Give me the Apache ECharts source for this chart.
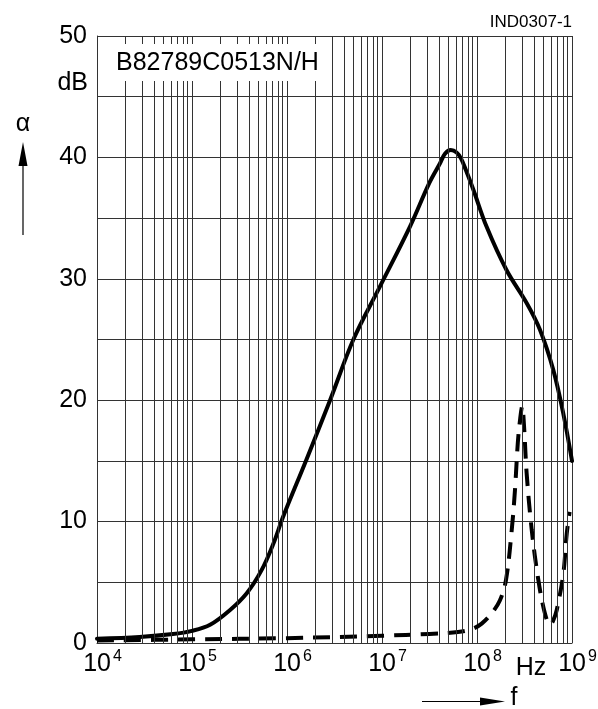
<!DOCTYPE html>
<html>
<head>
<meta charset="utf-8">
<script src="https://cdn.jsdelivr.net/npm/echarts@6/dist/echarts.min.js"></script>
<style>
html,body{margin:0;padding:0;background:#fff;}
#chart{width:598px;height:709px;}
</style>
</head>
<body>
<div id="chart"></div>
<script>
// ---- data (frequency in Hz, attenuation in dB) ----
const freqSolid = [1e4, 2.8e4, 6.3e4, 1e5, 1.55e5, 2.5e5, 3.77e5, 5.4e5, 7.2e5, 9.1e5, 1.6e6, 2.84e6, 5.0e6, 9.5e6, 1.97e7, 3.15e7, 4.07e7, 4.6e7, 5.3e7, 6.1e7, 6.8e7, 7.6e7, 9.1e7, 1.26e8, 2.05e8, 3.33e8, 4.6e8, 6.35e8, 8.1e8, 1e9];
const attSolid  = [0.35, 0.5, 0.74, 1.0, 1.5, 2.7, 4.1, 6.0, 8.2, 10.4, 15.1, 20.0, 25.0, 29.35, 34.3, 37.9, 39.5, 40.3, 40.6, 40.4, 39.9, 39.0, 37.4, 34.3, 30.7, 28.0, 25.8, 22.5, 18.9, 15.0];

const freqDashed = [1e4, 1e5, 1e6, 1e7, 3.16e7, 6.3e7, 8.9e7, 1.12e8, 1.41e8, 1.74e8, 2.02e8, 2.32e8, 2.51e8, 2.69e8, 2.85e8, 2.99e8, 3.13e8, 3.33e8, 3.77e8, 4.42e8, 5.2e8, 5.86e8, 6.3e8, 6.9e8, 8.1e8, 8.8e8, 9.44e8];
const attDashed  = [0.2, 0.3, 0.4, 0.6, 0.75, 0.9, 1.15, 1.6, 2.4, 3.5, 5.2, 9.3, 12.6, 16.5, 18.5, 19.5, 17.8, 14.0, 9.3, 5.2, 2.4, 1.5, 1.8, 2.7, 5.7, 9.0, 10.8];

// ---- axes ----
const xDecades   = [1e4, 1e5, 1e6, 1e7, 1e8, 1e9];
const xExponents = ['4', '5', '6', '7', '8', '9'];
const minorMultipliers = [2, 3, 4, 5, 6, 7, 8, 9];
const yTickLabels = [0, 10, 20, 30, 40, 50];

const titleText = 'B82789C0513N/H';
const codeText = 'IND0307-1';

const gridFreqs = [];
xDecades.slice(0, -1).forEach(d => minorMultipliers.forEach(m => gridFreqs.push(d * m)));

const FONT = '"Liberation Sans", Arial, sans-serif';
const chart = echarts.init(document.getElementById('chart'), null, {renderer: 'canvas'});

const option = {
  backgroundColor: '#fff',
  animation: false,
  textStyle: {fontFamily: FONT},
  grid: {left: 97, right: 26, top: 36, bottom: 66, containLabel: false, outerBoundsMode: 'none'},
  xAxis: {
    type: 'log', logBase: 10, min: 1e4, max: 1e9,
    axisLine: {show: true, lineStyle: {color: '#333', width: 1}},
    axisTick: {show: false},
    splitLine: {show: true, lineStyle: {color: '#333', width: 1}},
    axisLabel: {
      margin: 9,
      color: '#000',
      formatter: function (v) {
        const e = String(Math.round(Math.log10(v)));
        const i = xExponents.indexOf(e);
        if (i < 0) return '';
        return '{b|10}{s|' + xExponents[i] + '}';
      },
      rich: {
        b: {fontSize: 25, lineHeight: 25, fontFamily: FONT, color: '#000', padding: [0, 0, 0, 11]},
        s: {fontSize: 16, lineHeight: 16, fontFamily: FONT, color: '#000', padding: [0, 0, 15, 2]}
      }
    }
  },
  yAxis: {
    type: 'value', min: 0, max: 50, interval: 5,
    axisLine: {show: true, lineStyle: {color: '#333', width: 1}},
    axisTick: {show: false},
    splitLine: {show: true, lineStyle: {color: '#333', width: 1}},
    axisLabel: {
      margin: 10, fontSize: 25, color: '#000', fontFamily: FONT,
      formatter: v => (yTickLabels.indexOf(v) >= 0 ? String(v) : '')
    }
  },
  series: [
    {
      type: 'line', data: [], z: 1, silent: true,
      markLine: {
        silent: true, symbol: ['none', 'none'], animation: false,
        label: {show: false},
        lineStyle: {color: '#333', width: 1, type: 'solid'},
        emphasis: {disabled: true},
        data: gridFreqs.map(f => ({xAxis: f}))
      }
    },
    {
      type: 'line', z: 3,
      data: freqSolid.map((f, i) => [f, attSolid[i]]),
      showSymbol: false, smooth: 0.35,
      lineStyle: {color: '#000', width: 4, cap: 'round', join: 'round'}
    },
    {
      type: 'line', z: 3,
      data: freqDashed.map((f, i) => [f, attDashed[i]]),
      showSymbol: false, smooth: 0.35,
      lineStyle: {color: '#000', width: 4, type: [17, 10], cap: 'butt'}
    }
  ],
  graphic: [
    {type: 'rect', z: 50, shape: {x: 105, y: 44, width: 215, height: 37}, style: {fill: '#fff'}},
    {type: 'text', z: 51, x: 116, y: 63, style: {text: titleText, font: '25px ' + FONT, fill: '#000', verticalAlign: 'middle', align: 'left'}},
    {type: 'text', z: 51, x: 572, y: 22, style: {text: codeText, font: '17px ' + FONT, fill: '#000', verticalAlign: 'middle', align: 'right'}},
    {type: 'text', z: 51, x: 88, y: 83, style: {text: 'dB', font: '25px ' + FONT, fill: '#000', verticalAlign: 'middle', align: 'right'}},
    {type: 'text', z: 51, x: 23, y: 124, style: {text: 'α', font: '25px ' + FONT, fill: '#000', verticalAlign: 'middle', align: 'center'}},
    {type: 'line', z: 51, shape: {x1: 23, y1: 235, x2: 23, y2: 160}, style: {stroke: '#000', lineWidth: 1.2}},
    {type: 'polygon', z: 51, shape: {points: [[23, 142], [18.5, 166], [27.5, 166]]}, style: {fill: '#000'}},
    {type: 'text', z: 51, x: 531, y: 668, style: {text: 'Hz', font: '25px ' + FONT, fill: '#000', verticalAlign: 'middle', align: 'center'}},
    {type: 'line', z: 51, shape: {x1: 422, y1: 701.5, x2: 490, y2: 701.5}, style: {stroke: '#000', lineWidth: 1.2}},
    {type: 'polygon', z: 51, shape: {points: [[505, 701.5], [480, 697.5], [480, 705.5]]}, style: {fill: '#000'}},
    {type: 'text', z: 51, x: 514, y: 698, style: {text: 'f', font: '25px ' + FONT, fill: '#000', verticalAlign: 'middle', align: 'center'}}
  ]
};
chart.setOption(option);
</script>
</body>
</html>
